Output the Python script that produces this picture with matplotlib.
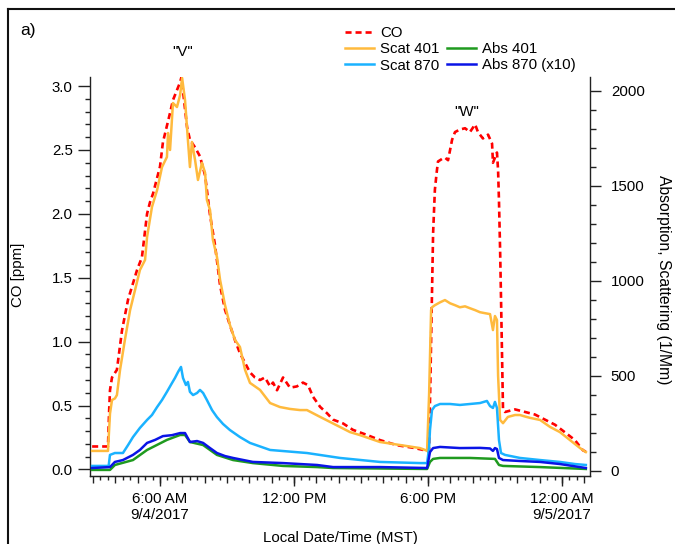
import matplotlib
matplotlib.use('Agg')
import matplotlib.pyplot as plt
from matplotlib.ticker import MultipleLocator, NullFormatter, FormatStrFormatter
from matplotlib.lines import Line2D

plt.rcParams['font.family'] = ['Liberation Sans', 'DejaVu Sans']
plt.rcParams['font.size'] = 10.8

# time in hours since 9/4/2017 00:00 MST
t_co = [2.96, 3.67, 3.72, 3.76, 3.85, 4.07, 4.30, 4.57, 4.97, 5.19,
        5.42, 5.55, 5.69, 6.00, 6.13, 6.45, 6.58, 6.90, 6.96, 7.21,
        7.34, 7.57, 7.79, 8.02, 8.24, 8.46, 8.69, 8.91, 9.13, 9.36,
        9.58, 10.03, 10.25, 10.48, 10.70, 10.93, 11.06, 11.24, 11.51, 11.82,
        12.13, 12.40, 12.63, 12.85, 13.17, 13.48, 13.75, 14.20, 14.64, 15.27,
        15.85, 16.61, 17.33, 17.87, 18.05, 18.14, 18.23, 18.31, 18.40, 18.45,
        18.63, 18.76, 18.90, 18.99, 19.08, 19.21, 19.43, 19.66, 19.88, 20.11,
        20.24, 20.46, 20.69, 20.87, 20.91, 21.09, 21.14, 21.18, 21.23, 21.27,
        21.36, 21.45, 21.90, 22.35, 22.79, 23.24, 23.69, 24.14, 24.58, 24.94,
        25.07]
co_ppm = [0.18, 0.18, 0.45, 0.62, 0.72, 0.78, 1.09, 1.33, 1.56, 1.66,
          2.00, 2.09, 2.16, 2.37, 2.56, 2.79, 2.89, 3.03, 3.07, 2.68,
          2.58, 2.52, 2.45, 2.30, 1.99, 1.76, 1.44, 1.25, 1.13, 1.01,
          0.91, 0.76, 0.72, 0.70, 0.72, 0.65, 0.68, 0.62, 0.72, 0.64,
          0.65, 0.68, 0.66, 0.57, 0.49, 0.44, 0.39, 0.36, 0.31, 0.27,
          0.23, 0.19, 0.17, 0.15, 0.14, 1.00, 1.85, 2.19, 2.34, 2.41,
          2.43, 2.44, 2.42, 2.50, 2.58, 2.64, 2.66, 2.67, 2.64, 2.70,
          2.64, 2.59, 2.62, 2.55, 2.40, 2.48, 2.34, 2.10, 1.72, 1.35,
          0.47, 0.45, 0.47, 0.45, 0.43, 0.39, 0.35, 0.29, 0.23, 0.15,
          0.14]

t_s401 = [2.96, 3.67, 3.76, 3.85, 3.98, 4.07, 4.21, 4.43, 4.66, 4.88,
          5.10, 5.33, 5.42, 5.64, 5.87, 6.09, 6.31, 6.36, 6.45, 6.58,
          6.76, 6.90, 6.99, 7.12, 7.25, 7.34, 7.43, 7.57, 7.70, 7.88,
          8.02, 8.10, 8.24, 8.37, 8.55, 8.69, 8.91, 9.13, 9.36, 9.58,
          9.81, 10.03, 10.48, 10.93, 11.37, 11.82, 12.27, 12.58, 13.17, 14.06,
          14.51, 14.96, 15.85, 16.75, 17.64, 17.87, 17.96, 18.05, 18.14, 18.18,
          18.31, 18.54, 18.76, 18.99, 19.21, 19.43, 19.66, 19.88, 20.11, 20.33,
          20.55, 20.78, 20.91, 21.00, 21.09, 21.14, 21.23, 21.36, 21.58, 21.90,
          22.12, 22.35, 22.57, 23.02, 23.47, 23.91, 24.36, 24.81, 25.07]
scat401 = [104, 104, 300, 372, 380, 398, 530, 690, 845, 950,
           1056, 1109, 1230, 1388, 1477, 1598, 1651, 1777, 1688, 1935,
           1914, 1977, 2067, 1951, 1740, 1598, 1730, 1635, 1530, 1620,
           1567, 1425, 1372, 1214, 1125, 1004, 872, 767, 688, 651,
           530, 462, 425, 356, 335, 325, 319, 319, 283, 230,
           203, 187, 151, 135, 119, 109, 104, 400, 845, 860,
           871, 886, 898, 881, 871, 860, 865, 855, 845, 834,
           829, 824, 740, 814, 793, 500, 267, 250, 283, 293,
           293, 285, 278, 267, 230, 203, 161, 119, 98]

t_s870 = [2.96, 3.70, 3.76, 3.98, 4.34, 4.57, 4.79, 5.10, 5.42, 5.64,
          5.87, 6.09, 6.31, 6.54, 6.67, 6.81, 6.94, 7.03, 7.16, 7.25,
          7.34, 7.48, 7.66, 7.79, 7.93, 8.10, 8.33, 8.55, 8.82, 9.13,
          9.58, 10.03, 10.93, 12.58, 14.06, 15.85, 17.64, 17.96, 18.05, 18.09,
          18.18, 18.31, 18.54, 18.99, 19.43, 19.88, 20.33, 20.64, 20.78, 20.91,
          21.00, 21.09, 21.18, 21.27, 21.45, 22.12, 23.02, 23.91, 24.58, 25.07]
scat870 = [25, 25, 83, 93, 93, 135, 177, 225, 267, 293,
           335, 372, 415, 462, 488, 520, 546, 488, 451, 467,
           415, 398, 409, 425, 409, 372, 319, 282, 246, 214,
           177, 146, 109, 93, 67, 46, 40, 40, 120, 214,
           319, 340, 351, 351, 346, 351, 356, 367, 340, 330,
           362, 330, 161, 93, 83, 67, 56, 46, 35, 30]

t_a401 = [2.96, 3.76, 3.98, 4.79, 5.42, 6.31, 6.90, 7.12, 7.34, 7.93,
          8.55, 9.27, 10.16, 11.51, 13.03, 13.75, 17.96, 18.09, 18.23, 18.54,
          19.88, 21.00, 21.18, 21.36, 23.02, 25.07]
abs401 = [4, 4, 30, 56, 109, 162, 188, 188, 151, 135,
          83, 56, 40, 25, 19, 14, 9, 46, 62, 67,
          67, 62, 30, 25, 19, 9]

t_a870 = [2.96, 3.76, 3.98, 4.34, 4.79, 5.10, 5.42, 5.78, 6.13, 6.54,
          6.90, 7.12, 7.34, 7.66, 7.93, 8.24, 8.55, 8.91, 9.27, 10.16,
          11.51, 13.03, 13.75, 15.85, 17.96, 18.09, 18.23, 18.54, 19.43, 20.33,
          20.78, 20.91, 21.00, 21.09, 21.18, 21.36, 22.12, 23.02, 23.91, 25.07]
abs870x10 = [14, 19, 46, 56, 83, 109, 146, 162, 182, 187,
             198, 198, 151, 156, 146, 119, 93, 77, 67, 46,
             40, 30, 19, 19, 14, 98, 119, 125, 119, 120,
             117, 104, 119, 114, 67, 56, 51, 46, 35, 14]

tick_hours = [6, 12, 18, 24]
tick_labels = ['6:00 AM\n9/4/2017', '12:00 PM', '6:00 PM', '12:00 AM\n9/5/2017']

c_co = '#ff0000'
c_s401 = '#ffba3d'
c_s870 = '#1ab2ff'
c_a401 = '#1f9a1f'
c_a870 = '#0a14e6'
spine_c = '#222222'

fig = plt.figure(figsize=(6.75, 5.44), dpi=100)
ax = fig.add_axes([90 / 675, 68 / 544, 500 / 675, 399 / 544])
ax2 = ax.twinx()

l_co, = ax.plot(t_co, co_ppm, color=c_co, lw=1.9, dashes=(2.3, 1.5), label='CO')
l_s401, = ax2.plot(t_s401, scat401, color=c_s401, lw=1.8, label='Scat 401')
l_s870, = ax2.plot(t_s870, scat870, color=c_s870, lw=1.8, label='Scat 870')
l_a401, = ax2.plot(t_a401, abs401, color=c_a401, lw=1.8, label='Abs 401')
l_a870, = ax2.plot(t_a870, abs870x10, color=c_a870, lw=1.8, label='Abs 870 (x10)')

ax.set_xlim(2.865, 25.256)
ax.set_ylim(-0.051, 3.071)
ax2.set_ylim(-28, 2072)

for a in (ax, ax2):
    a.spines['top'].set_visible(False)
    for s in a.spines.values():
        s.set_color(spine_c)
        s.set_linewidth(1.0)
ax2.spines['bottom'].set_visible(False)
ax2.spines['left'].set_visible(False)
ax.spines['right'].set_visible(False)

# left axis
ax.yaxis.set_major_locator(MultipleLocator(0.5))
ax.yaxis.set_minor_locator(MultipleLocator(0.1))
ax.yaxis.set_major_formatter(FormatStrFormatter('%.1f'))
ax.tick_params(axis='y', which='major', length=8.5, width=1.0, pad=4, color=spine_c)
ax.tick_params(axis='y', which='minor', length=3.6, width=1.0, color=spine_c)

# right axis
ax2.yaxis.set_major_locator(MultipleLocator(500))
ax2.yaxis.set_minor_locator(MultipleLocator(100))
ax2.tick_params(axis='y', which='major', length=8, width=1.0, pad=7, color=spine_c)
ax2.tick_params(axis='y', which='minor', length=4.3, width=1.0, color=spine_c)

# x axis: hourly and 20-minute ticks, labelled 6-hour ticks on a secondary axis
ax.xaxis.set_major_locator(MultipleLocator(1))
ax.xaxis.set_minor_locator(MultipleLocator(1 / 3))
ax.xaxis.set_major_formatter(NullFormatter())
ax.tick_params(axis='x', which='major', length=5, width=1.0, color=spine_c)
ax.tick_params(axis='x', which='minor', length=2.6, width=1.0, color=spine_c)

sec = ax.secondary_xaxis('bottom')
sec.set_xticks(tick_hours, tick_labels)
sec.tick_params(length=7.5, width=1.0, pad=4, color=spine_c)
sec.spines['bottom'].set_color(spine_c)

ax.text(7.03, 3.27, '"V"', ha='center', va='center', clip_on=False)
ax.text(19.75, 2.80, '"W"', ha='center', va='center', clip_on=False)

fig.text(20 / 675, 1 - 30 / 544, 'a)', fontsize=12.5, ha='left', va='center')
fig.text(18 / 675, 1 - 275 / 544, 'CO [ppm]', rotation=90, ha='center', va='center')
fig.text(664 / 675, 1 - 280 / 544, 'Absorption, Scattering (1/Mm)', rotation=270,
         ha='center', va='center', fontsize=11.3)
fig.text(340 / 675, 1 - 538 / 544, 'Local Date/Time (MST)', ha='center', va='center')

blank = Line2D([], [], color='none')
handles = [l_co, l_s401, l_s870, blank, l_a401, l_a870]
labels = ['CO', 'Scat 401', 'Scat 870', ' ', 'Abs 401', 'Abs 870 (x10)']
fig.legend(handles, labels, ncol=2, loc='upper left',
           bbox_to_anchor=(345 / 675, 1 - 26 / 544), frameon=False,
           borderpad=0, borderaxespad=0, handlelength=1.9, handletextpad=0.45,
           columnspacing=0.5, labelspacing=0.15)

# outer panel frame (top and left edges)
fig.add_artist(Line2D([8 / 675, 1], [1 - 9 / 544, 1 - 9 / 544],
                      transform=fig.transFigure, color='#111111', lw=1.5))
fig.add_artist(Line2D([8 / 675, 8 / 675], [0, 1 - 9 / 544],
                      transform=fig.transFigure, color='#111111', lw=1.5))

fig.savefig('out.png', dpi=100)
